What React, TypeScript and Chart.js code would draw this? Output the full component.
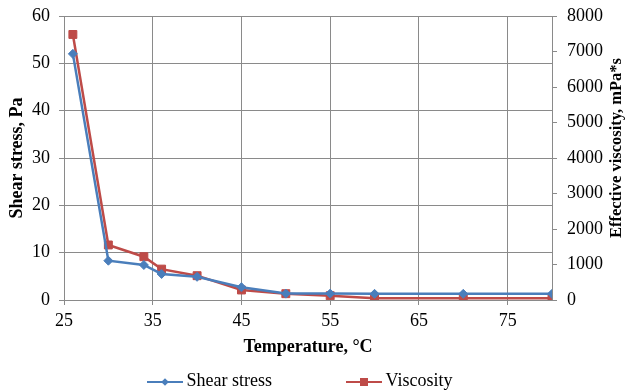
import React, { useEffect, useRef } from "react";
import { Chart, registerables } from "chart.js";

Chart.register(...registerables);

const temperatures = [26, 30, 34, 36, 40, 45, 50, 55, 60, 70, 80];
const shearStress = [52, 8.3, 7.4, 5.5, 4.9, 2.7, 1.35, 1.35, 1.3, 1.3, 1.3];
const viscosity = [7480, 1550, 1220, 870, 685, 282, 178, 121, 50, 50, 50];
const xTickValues = [25, 35, 45, 55, 65, 75];
const seriesNames = ["Shear stress", "Viscosity"];
const xTitle = "Temperature, °C";
const yLeftTitle = "Shear stress, Pa";
const yRightTitle = "Effective viscosity, mPa*s";

const FONT = "'Liberation Serif', 'Times New Roman', serif";
const FS = 18;
const BLUE = "#4A7EBB";
const RED = "#BE4B48";
const GRID = "#8a8a8a";

const rightTitlePlugin = {
  id: "rightTitle",
  afterDraw(chart: any) {
    const ctx = chart.ctx;
    ctx.save();
    ctx.translate(617, 148);
    ctx.rotate(-Math.PI / 2);
    ctx.font = `bold 16.5px ${FONT}`;
    ctx.fillStyle = "#000";
    ctx.textAlign = "center";
    ctx.textBaseline = "middle";
    ctx.fillText(yRightTitle, 0, 0);
    ctx.restore();
  },
};

const legendPlugin = {
  id: "customLegend",
  afterDraw(chart: any) {
    const ctx = chart.ctx;
    const y = 382;
    ctx.save();
    ctx.font = `${FS}px ${FONT}`;
    ctx.textBaseline = "middle";
    ctx.textAlign = "left";
    const items = [
      { x: 147, color: BLUE, style: "diamond", text: seriesNames[0] },
      { x: 346, color: RED, style: "square", text: seriesNames[1] },
    ];
    items.forEach((it) => {
      ctx.strokeStyle = it.color;
      ctx.fillStyle = it.color;
      ctx.lineWidth = 2.2;
      ctx.beginPath();
      ctx.moveTo(it.x, y);
      ctx.lineTo(it.x + 36, y);
      ctx.stroke();
      const cx = it.x + 18;
      ctx.beginPath();
      if (it.style === "diamond") {
        const r = 3.8;
        ctx.moveTo(cx, y - r);
        ctx.lineTo(cx + r, y);
        ctx.lineTo(cx, y + r);
        ctx.lineTo(cx - r, y);
        ctx.closePath();
      } else {
        const s = 4;
        ctx.rect(cx - s, y - s, 2 * s, 2 * s);
      }
      ctx.fill();
      ctx.fillStyle = "#000";
      ctx.fillText(it.text, it.x + 39.5, y - 1);
    });
    ctx.restore();
  },
};

const noVPad = (scale: any, width: number) => {
  scale.width = width;
  scale.paddingTop = 0;
  scale.paddingBottom = 0;
};

export default function App() {
  const ref = useRef<HTMLCanvasElement | null>(null);

  useEffect(() => {
    document.body.style.margin = "0";
    const canvas = ref.current;
    if (!canvas) return;
    const chart = new Chart(canvas, {
      type: "line",
      data: {
        datasets: [
          {
            label: seriesNames[0],
            data: temperatures.map((t, i) => ({ x: t, y: shearStress[i] })),
            borderColor: BLUE,
            backgroundColor: BLUE,
            borderWidth: 2.5,
            pointStyle: "rectRot",
            pointRadius: 4.5,
            pointBorderWidth: 1,
            yAxisID: "y",
            tension: 0,
          },
          {
            label: seriesNames[1],
            data: temperatures.map((t, i) => ({ x: t, y: viscosity[i] })),
            borderColor: RED,
            backgroundColor: RED,
            borderWidth: 2.5,
            pointStyle: "rect",
            pointRadius: 5.6,
            pointBorderWidth: 1,
            yAxisID: "y1",
            tension: 0,
          },
        ],
      },
      options: {
        responsive: false,
        animation: false,
        maintainAspectRatio: false,
        layout: { padding: { top: 16, left: 0, right: 0, bottom: 31 } },
        plugins: {
          legend: { display: false },
          tooltip: { enabled: false },
        },
        scales: {
          x: {
            type: "linear",
            min: 25,
            max: 80,
            afterBuildTicks: (axis: any) => {
              axis.ticks = xTickValues.map((v) => ({ value: v }));
            },
            afterFit: (scale: any) => {
              scale.height = 60;
              scale.paddingLeft = 0;
              scale.paddingRight = 0;
            },
            grid: { color: GRID, lineWidth: 1, tickLength: 5, drawTicks: true },
            border: { color: GRID, width: 1 },
            ticks: {
              color: "#000",
              font: { family: FONT, size: FS },
              padding: 5,
              maxRotation: 0,
              autoSkip: false,
            },
            title: {
              display: true,
              text: xTitle,
              color: "#000",
              font: { family: FONT, size: FS, weight: "bold" },
              padding: { top: 0, bottom: 2 },
            },
          },
          y: {
            position: "left",
            min: 0,
            max: 60,
            afterFit: (scale: any) => noVPad(scale, 64),
            grid: { color: GRID, lineWidth: 1, tickLength: 5 },
            border: { color: GRID, width: 1 },
            ticks: {
              stepSize: 10,
              color: "#000",
              font: { family: FONT, size: FS },
              padding: 9,
            },
            title: {
              display: true,
              text: yLeftTitle,
              color: "#000",
              font: { family: FONT, size: FS, weight: "bold" },
              padding: { top: 7, bottom: 0 },
            },
          },
          y1: {
            position: "right",
            min: 0,
            max: 8000,
            afterFit: (scale: any) => noVPad(scale, 73),
            grid: { drawOnChartArea: false, color: GRID, tickLength: 5 },
            border: { color: GRID, width: 1 },
            ticks: {
              stepSize: 1000,
              color: "#000",
              font: { family: FONT, size: FS },
              padding: 10,
              callback: (v: any) => String(v),
            },
          },
        },
      },
      plugins: [rightTitlePlugin, legendPlugin],
    } as any);
    return () => chart.destroy();
  }, []);

  return <canvas ref={ref} width={625} height={391} style={{ display: "block" }} />;
}
